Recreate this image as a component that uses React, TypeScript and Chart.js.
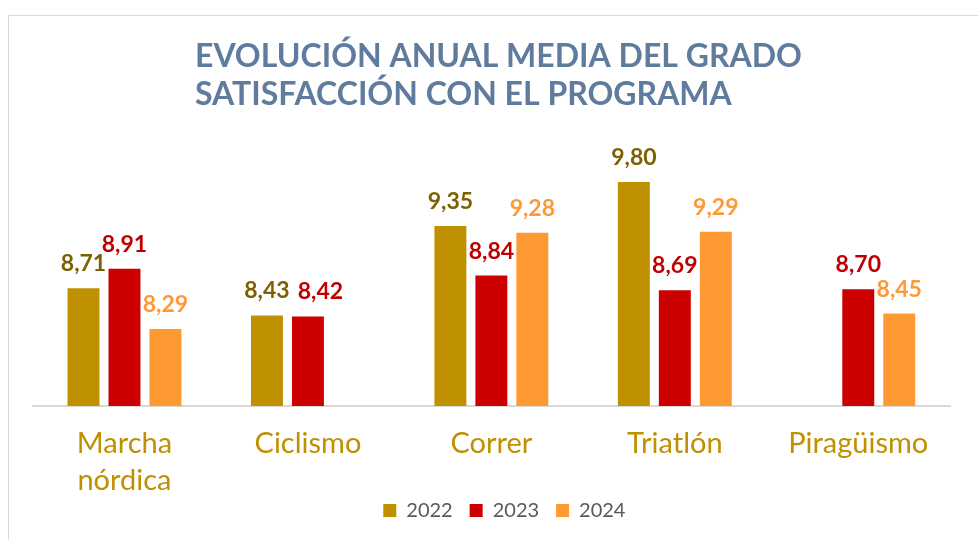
import React, { useEffect, useRef } from "react";
import { Chart, registerables } from "chart.js";

Chart.register(...registerables);

const categories: (string | string[])[] = [["Marcha", "nórdica"], "Ciclismo", "Correr", "Triatlón", "Piragüismo"];
const seriesNames = ["2022", "2023", "2024"];
const values2022 = [8.71, 8.43, 9.35, 9.8, null];
const values2023 = [8.91, 8.42, 8.84, 8.69, 8.7];
const values2024 = [8.29, null, 9.28, 9.29, 8.45];
const titleLines = ["EVOLUCIÓN ANUAL MEDIA DEL GRADO", "SATISFACCIÓN CON EL PROGRAMA"];

const barColors = ["#BF9000", "#CC0000", "#FF9933"];
const labelColors = ["#7F6000", "#C00000", "#FF9933"];
const titleColor = "#5F7C9E";
const FONT = "Lato";

const titlePlugin = {
  id: "leftTitle",
  afterDraw(chart: any) {
    const ctx = chart.ctx;
    ctx.save();
    ctx.font = `bold 32px ${FONT}`;
    ctx.fillStyle = titleColor;
    ctx.textAlign = "left";
    ctx.textBaseline = "alphabetic";
    ctx.fillText(titleLines[0], 195, 67);
    ctx.fillText(titleLines[1], 195, 105);
    ctx.restore();
  },
};

const valueLabelPlugin = {
  id: "valueLabels",
  afterDatasetsDraw(chart: any) {
    const ctx = chart.ctx;
    ctx.save();
    ctx.font = `bold 23px ${FONT}`;
    ctx.textAlign = "center";
    ctx.textBaseline = "alphabetic";
    const n = chart.data.labels.length;
    for (let j = 0; j < n; j++) {
      let prev: { right: number; top: number; bottom: number } | null = null;
      chart.data.datasets.forEach((ds: any, i: number) => {
        const v = ds.data[j];
        if (v == null) return;
        const bar = chart.getDatasetMeta(i).data[j];
        const text = v.toFixed(2).replace(".", ",");
        const w = ctx.measureText(text).width;
        const y = bar.y - 17;
        let x = bar.x;
        const top = y - 17;
        const bottom = y;
        if (prev && top < prev.bottom && bottom > prev.top && x - w / 2 < prev.right + 8) {
          x = prev.right + 8 + w / 2;
        }
        ctx.fillStyle = labelColors[i];
        ctx.fillText(text, x, y);
        prev = { right: x + w / 2, top, bottom };
      });
    }
    ctx.restore();
  },
};

const legendShiftPlugin = {
  id: "legendShift",
  afterLayout(chart: any) {
    const lg = chart.legend;
    if (lg) {
      lg.left += 13;
      lg.right += 13;
      lg.top -= 17.5;
      lg.bottom -= 17.5;
    }
  },
};

export default function App() {
  const canvasRef = useRef<HTMLCanvasElement | null>(null);

  useEffect(() => {
    if (!canvasRef.current) return;
    const values = [values2022, values2023, values2024];
    const chart = new Chart(canvasRef.current, {
      type: "bar",
      data: {
        labels: categories,
        datasets: seriesNames.map((name, i) => ({
          label: name,
          data: values[i],
          backgroundColor: barColors[i],
          borderWidth: 0,
          categoryPercentage: 0.67,
          barPercentage: 0.78,
        })),
      },
      options: {
        responsive: false,
        animation: false,
        layout: { padding: { left: 32.75, right: 28, top: 162.6, bottom: -8 } },
        plugins: {
          title: { display: false },
          tooltip: { enabled: false },
          legend: {
            position: "bottom",
            labels: {
              boxWidth: 13,
              boxHeight: 13,
              padding: 17,
              color: "#595959",
              font: { family: FONT, size: 20 },
            },
          },
        },
        scales: {
          x: {
            grid: { display: false },
            border: { display: true, color: "#D9D9D9", width: 2 },
            ticks: {
              color: "#BF9000",
              font: { family: FONT, size: 29, lineHeight: 1.25 },
              padding: 12,
              maxRotation: 0,
              autoSkip: false,
            },
            afterFit: (s: any) => {
              s.height = 95;
            },
          },
          y: { display: false, min: 7.5, max: 10 },
        },
      } as any,
      plugins: [titlePlugin, valueLabelPlugin, legendShiftPlugin],
    });
    return () => chart.destroy();
  }, []);

  return (
    <div>
      <div
        style={{
          position: "absolute",
          left: 8,
          top: 15,
          width: 970,
          height: 525,
          borderTop: "1px solid #D9D9D9",
          borderLeft: "1px solid #D9D9D9",
          boxSizing: "border-box",
        }}
      />
      <canvas
        ref={canvasRef}
        width={978}
        height={540}
        style={{ position: "absolute", left: 0, top: 0, width: 978, height: 540, display: "block" }}
      />
    </div>
  );
}
